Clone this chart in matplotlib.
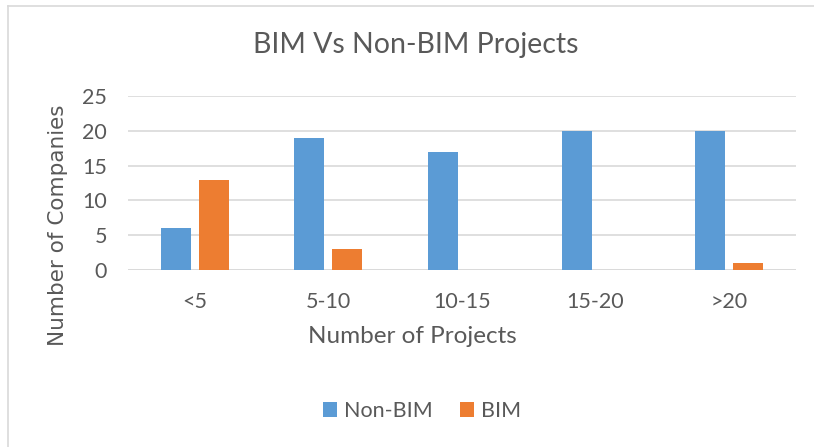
import matplotlib.pyplot as plt
import numpy as np
from matplotlib.lines import Line2D

# --------------------------------------------------
# Data
# --------------------------------------------------
categories = ["<5", "5-10", "10-15", "15-20", ">20"]
non_bim = [6, 19, 17, 20, 20]
bim = [13, 3, 0, 0, 1]
y_ticks = [0, 5, 10, 15, 20, 25]

# --------------------------------------------------
# Style
# --------------------------------------------------
plt.rcParams['font.family'] = ['Lato', 'DejaVu Sans']
text_color = '#595959'
grid_color = '#d9d9d9'
blue = '#5b9bd5'
orange = '#ed7d31'

fig = plt.figure(figsize=(8.14, 4.47), dpi=100)
ax = fig.add_axes([128 / 814, 1 - 270 / 447, (796 - 128) / 814, (270 - 96) / 447])

x = np.arange(len(categories))
width = 0.225
offset = 0.142
ax.bar(x - offset, non_bim, width, color=blue, label='Non-BIM', zorder=3)
ax.bar(x + offset, bim, width, color=orange, label='BIM', zorder=3)

ax.set_xlim(-0.5, len(categories) - 0.5)
ax.set_ylim(0, 25)
ax.set_yticks(y_ticks)
ax.set_xticks(x)
ax.set_xticklabels(categories)
ax.yaxis.grid(True, color=grid_color, linewidth=1.2, zorder=0)
for s in ax.spines.values():
    s.set_visible(False)
ax.axhline(0, color=grid_color, linewidth=1.2, zorder=1)
ax.tick_params(axis='both', length=0, labelsize=15.5, labelcolor=text_color)
ax.tick_params(axis='x', pad=16)
ax.tick_params(axis='y', pad=15)

ax.set_xlabel("Number of Projects", fontsize=17.5, color=text_color)
ax.xaxis.set_label_coords((412 - 128) / 668, -0.32)
ax.set_ylabel("Number of Companies", fontsize=15.5, color=text_color,
              family='DejaVu Sans')
ax.yaxis.set_label_coords((68 - 128) / 668, (270 - 225) / 174)

fig.text(416 / 814, 1 - 45 / 447, "BIM Vs Non-BIM Projects", fontsize=20.5,
         color=text_color, ha='center', va='center')

# Legend
leg = fig.legend(loc='center', bbox_to_anchor=(422 / 814, 1 - 411 / 447), ncol=2,
                 frameon=False, fontsize=15.5, labelcolor=text_color,
                 handlelength=0.65, handleheight=0.65, handletextpad=0.3,
                 columnspacing=1.3)

# Chart border (top and left edges visible)
fig.add_artist(Line2D([8 / 814, 8 / 814], [0, 1 - 6 / 447], transform=fig.transFigure,
                      color='#d9d9d9', linewidth=1.2))
fig.add_artist(Line2D([8 / 814, 1], [1 - 6 / 447, 1 - 6 / 447], transform=fig.transFigure,
                      color='#d9d9d9', linewidth=1.2))

fig.savefig("out.png", dpi=100)
